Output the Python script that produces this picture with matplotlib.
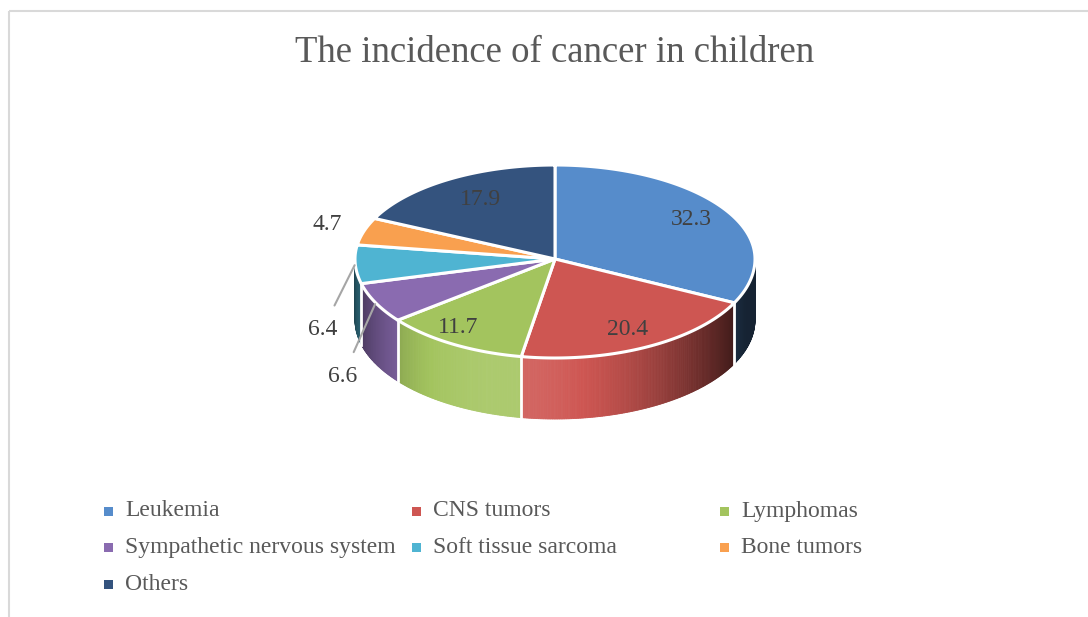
import numpy as np
import matplotlib.pyplot as plt
from matplotlib.patches import Polygon, Rectangle

# chart data
categories = ["Leukemia", "CNS tumors", "Lymphomas", "Sympathetic nervous system",
              "Soft tissue sarcoma", "Bone tumors", "Others"]
values = [32.3, 20.4, 11.7, 6.6, 6.4, 4.7, 17.9]
colors = ["#568CCB", "#CE5652", "#A3C45E", "#8A6BB0", "#4FB4D2", "#F9A04F", "#34537E"]
title = "The incidence of cancer in children"

plt.rcParams['font.family'] = ['Liberation Serif', 'DejaVu Serif']

fig = plt.figure(figsize=(10.88, 6.17), dpi=100)
ax = fig.add_axes([0, 0, 1, 1])
ax.set_xlim(0, 1088)
ax.set_ylim(617, 0)
ax.axis('off')

# outer chart frame
ax.add_patch(Rectangle((9, 11), 1100, 700, fill=False, edgecolor='#d9d9d9', lw=1.5))

ax.text(555, 53, title, fontsize=26.5, color='#595959', ha='center', va='center')

# pie geometry (pixels); front half a bit taller for the perspective look
cx, cy, a, b_back, b_front, depth = 555, 259, 200, 94, 99, 61


def pt(theta):
    t = np.radians(theta)
    s = np.sin(t)
    b = np.where(s < 0, b_front, b_back)
    return cx + a * np.cos(t), cy - b * s


def shade(c, theta):
    # fake lighting on the side wall, brightest slightly left of front
    k = max(0.0, np.cos(np.radians(theta + 105))) ** 1.5
    f = 0.25 + 0.85 * k
    c = np.array(plt.matplotlib.colors.to_rgb(c))
    if f > 1:
        return c + (1 - c) * (f - 1)
    return c * f


vals = np.array(values)
ang = 90 - np.concatenate([[0], np.cumsum(vals)]) * 3.6
starts, ends = ang[:-1], ang[1:]

# side walls (front half only)
for s, e, col in zip(starts, ends, colors):
    lo, hi = max(e, -180), min(s, 0)
    if lo >= hi:
        continue
    th = np.linspace(lo, hi, int((hi - lo) * 2) + 2)
    for t1, t2 in zip(th[:-1], th[1:]):
        x1, y1 = pt(t1)
        x2, y2 = pt(t2)
        c = shade(col, (t1 + t2) / 2)
        ax.add_patch(Polygon([(x1, y1), (x2, y2), (x2, y2 + depth), (x1, y1 + depth)],
                             closed=True, facecolor=c, edgecolor=c, lw=0.6))
for s in starts:
    if -180 < s < 0:
        x, y = pt(s)
        ax.plot([x, x], [y, y + depth], color='white', lw=2)

# top faces
for s, e, col in zip(starts, ends, colors):
    th = np.linspace(s, e, 200)
    xs, ys = pt(th)
    poly = [(cx, cy)] + list(zip(xs, ys))
    ax.add_patch(Polygon(poly, closed=True, facecolor=col, edgecolor='white', lw=2.2, joinstyle='round'))

# data labels
mids = (starts + ends) / 2
lab_col = '#404040'
inner_r = {"Leukemia": (0.8, 0.8), "CNS tumors": (0.8, 0.8),
           "Lymphomas": (0.95, 0.8), "Others": (0.7, 0.75)}
for i, (m, v) in enumerate(zip(mids, values)):
    name = categories[i]
    if name in inner_r:
        rx, ry = inner_r[name]
        ex, ey = pt(m)
        x = cx + (ex - cx) * rx
        y = cy + (ey - cy) * ry
        ax.text(x, y, f"{v}", fontsize=17, color=lab_col, ha='center', va='center')
    elif name == "Bone tumors":
        ex, ey = pt(m)
        x = cx + (ex - cx) * 1.19
        y = cy + (ey - cy) * 1.25
        ax.text(x, y, f"{v}", fontsize=17, color=lab_col, ha='center', va='center')
    else:
        ex, ey = pt(m)
        off = (-33, 66) if name == "Soft tissue sarcoma" else (-33, 74)
        ax.annotate(f"{v}", xy=(ex, ey), xytext=(ex + off[0], ey + off[1]),
                    fontsize=17, color=lab_col, ha='center', va='center',
                    arrowprops=dict(arrowstyle='-', color='#a6a6a6', lw=1.5,
                                    shrinkA=9, shrinkB=1))

# legend, filled row by row like the original
for i, (name, col) in enumerate(zip(categories, colors)):
    r, c = divmod(i, 3)
    x = 108 + c * 308
    y = 511 + r * 36.5
    ax.add_patch(Rectangle((x - 4.5, y - 4.5), 9, 9, facecolor=col, edgecolor='none'))
    ax.text(x + 17, y, name, fontsize=17, color='#595959', ha='left', va='center')

fig.savefig("out.png", dpi=100)
